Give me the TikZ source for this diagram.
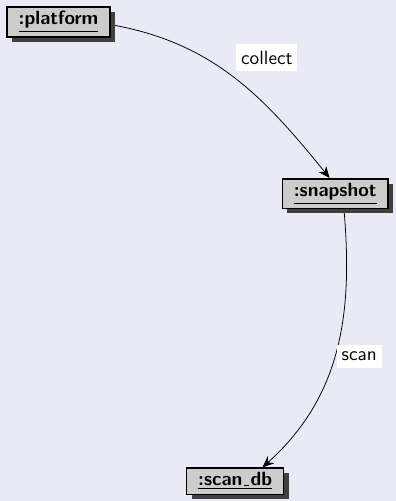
\documentclass[tikz,border=0pt]{standalone}
\usepackage{tikz}
\usetikzlibrary{shadows, arrows.meta}
\definecolor{pagebg}{RGB}{234,234,246}
\pgfdeclarelayer{back}
\pgfdeclarelayer{wires}
\pgfsetlayers{back,wires,main}
\newcommand{\uscore}{\kern.06em\vbox{\hrule width.3em height.6pt}\kern.06em}
\tikzset{
    object/.style={rectangle, draw=black, thick, fill=black!20, font=\sffamily\bfseries,
        inner xsep=6pt, inner ysep=2.3pt,
        drop shadow={shadow xshift=2.6pt, shadow yshift=-2.6pt, fill=black!75, opacity=1}},
    msg/.style={fill=white, font=\sffamily, inner xsep=2.5pt, inner ysep=3.5pt},
    call/.style={-{Stealth[length=6pt, width=5pt, inset=2pt]}}
}

\begin{document}
\begin{tikzpicture}
    \begin{pgfonlayer}{back}
        \fill[pagebg] (0,0) rectangle (7.24,9.16);
    \end{pgfonlayer}
    \useasboundingbox (0,0) rectangle (7.24,9.16);

    % objects
    \node[object] (platform) at (1.07,8.76) {\underline{:platform}};
    \node[object] (snapshot) at (6.13,5.62) {\underline{:snapshot}};
    \node[object] (scandb) at (4.30,0.36) {\underline{:scan\uscore db}};

    % messages
    \begin{pgfonlayer}{wires}
        \draw[call] (platform.-3) to[out=-10, in=129] node[msg, pos=0.5, anchor=south west, xshift=1pt, yshift=3pt] {collect} (snapshot.110);
        \draw[call] (snapshot.-61) to[out=-85, in=42] node[msg, pos=0.52, anchor=west, xshift=1pt] {scan} (scandb.27);
    \end{pgfonlayer}
\end{tikzpicture}
\end{document}
